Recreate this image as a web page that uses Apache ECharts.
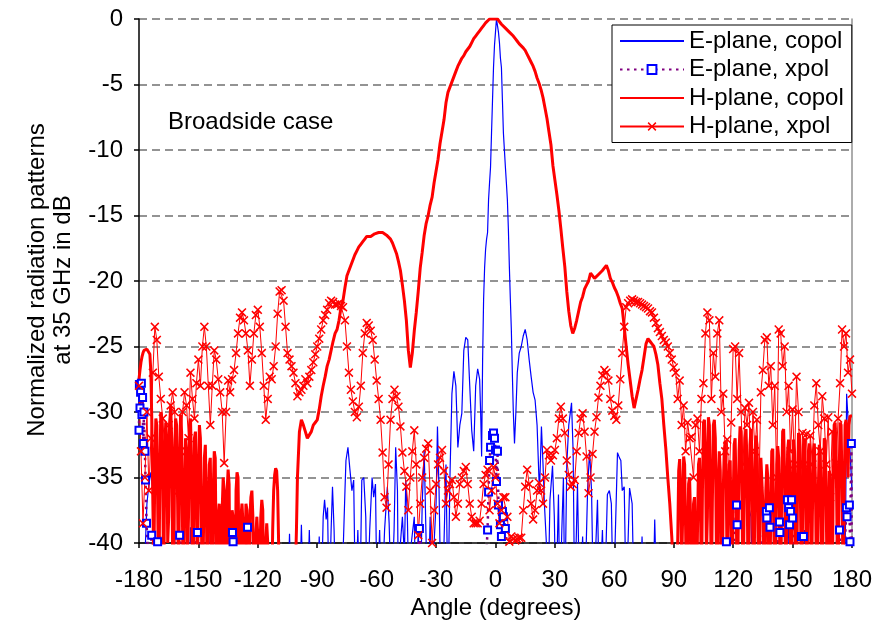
<!DOCTYPE html>
<html><head><meta charset="utf-8">
<script src="https://cdn.jsdelivr.net/npm/echarts@6/dist/echarts.min.js"></script>
<style>html,body{margin:0;padding:0;background:#fff}#c{width:875px;height:631px}</style>
</head><body><div id="c"></div>
<script>
// ---------- DATA ----------
const xTicks = [-180,-150,-120,-90,-60,-30,0,30,60,90,120,150,180];
const yTicks = [0,-5,-10,-15,-20,-25,-30,-35,-40];
const seriesNames = ['E-plane, copol','E-plane, xpol','H-plane, copol','H-plane, xpol'];

// H-plane copol, left edge: -180 .. -100 every 0.5 deg
const hCopolLeft = [
-27.5,-26.8,-26.2,-25.8,-25.5,-25.3,-25.2,-25.2,-25.2,-25.2,
-25.3,-25.6,-27,-31,-37,-42,-34,-30.5,-31,-38,
-45,-35,-30,-30.5,-36,-44,-33,-30.8,-32,-40,
-38,-31,-29.5,-32,-42,-45,-33,-30.5,-31,-37,
-44,-34,-30.2,-31.5,-39,-45,-36,-32,-33,-41,
-38,-31,-30.5,-34,-45,-40,-32,-31.5,-36,-44,
-35,-31,-32,-38,-45,-40,-33.5,-32.5,-37,-45,
-38,-34,-33.5,-40,-45,-36,-33,-33.5,-42,-45,
-38,-37,-40,-45,-37.5,-35,-36,-44,-45,-36,
-34.4,-35.5,-45,-40,-37.5,-38,-45,-46,-36,-34.6,
-35,-41,-45,-38,-37,-38.5,-45,-41,-37,-37.5,
-44,-45,-38,-36.5,-36,-38,-45,-44,-39.5,-38,
-39.5,-45,-45,-38,-36.7,-37.5,-45,-46,-40,-38.5,
-40,-45,-46,-45,-44,-39,-36,-34.8,-34.3,-34.5,
-36,-40,-45,-45,-46,-45,-45,-46,-45,-45,
-46,-45,-45,-46,-45,-45,-44,-43,-42,-39,
-35
];
// H-plane copol, centre: -99 .. 89 every 1 deg
const hCopolMid = [
-31.5,-30.6,-31,-31.5,-32,-32,-31.5,-31,-30.8,
-30.6,-29.8,-28.8,-28,-27.3,-26.5,-26,-25.3,-24.6,-24,
-23.7,-23,-22,-21.5,-20.5,-19.6,-19.2,-18.8,-18.4,-18,
-17.7,-17.4,-17.2,-17,-16.8,-16.6,-16.5,-16.6,-16.5,-16.4,
-16.3,-16.3,-16.2,-16.3,-16.4,-16.5,-16.6,-16.8,-17.1,-17.5,
-17.9,-18.5,-19.2,-20.3,-21.5,-23,-25.3,-26.6,-25.5,-23.8,
-22.4,-20.8,-19,-17.8,-16.5,-15.6,-15,-14.2,-13.6,-12.5,
-11.6,-10.7,-9.5,-8.6,-7.7,-6.4,-5.6,-5.2,-4.8,-4.4,
-4,-3.6,-3.3,-3,-2.8,-2.5,-2.4,-2.1,-1.8,-1.5,
-1.3,-1.1,-0.9,-0.7,-0.5,-0.3,-0.2,0,0,0,
0,
0,-0.2,-0.4,-0.5,-0.7,-0.8,-1,-1.1,-1.3,-1.5,
-1.7,-1.9,-2,-2.2,-2.4,-2.7,-3,-3.3,-3.6,-4,
-4.5,-4.9,-5.4,-6,-6.8,-7.6,-8.6,-9.6,-11.2,-12.3,
-13.4,-14.6,-16,-17.5,-18.9,-20.8,-22.3,-23.4,-24,-23.6,
-23,-22.3,-21.6,-21.2,-20.6,-20.3,-20,-19.4,-19.5,-19.8,
-19.7,-19.5,-19.4,-19.2,-19,-18.8,-19.2,-19.8,-20.1,-20.5,
-20.8,-21.2,-21.7,-22.1,-23.5,-25,-26.4,-27.6,-28.8,-29.7,
-29,-28.3,-27.5,-26.8,-25.8,-24.8,-24.4,-24.6,-24.8,-25,
-25.6,-26.4,-27.8,-29,-31,-32.8,-35,-37,-39.5
];
// H-plane copol, right edge: 89.5 .. 180 every 0.5 deg
const hCopolRight = [
-41,-43,-45,-46,-44,-40,-34.5,-33.6,-36,-42,
-38,-33.4,-34,-39,-45,-41,-35.5,-35,-38,-45,
-44,-37,-36.5,-41,-45,-39,-34,-33.5,-37,-44,
-36,-30.8,-30.6,-33,-41,-38,-30.4,-31,-36,-44,
-37,-31,-30.6,-32,-40,-45,-35,-33,-34.5,-42,
-44,-36,-33,-32.2,-35,-43,-38,-34,-33.7,-39,
-45,-37,-32.5,-32,-36,-44,-40,-33,-31.1,-31.5,
-37,-45,-38,-32,-31.3,-34,-43,-40,-32.5,-31.3,
-33,-41,-45,-35,-31.8,-32.5,-39,-45,-38,-33.5,
-33.4,-37,-44,-45,-36,-34,-35,-42,-45,-37,
-33,-32.8,-38,-45,-41,-34,-32.6,-33.5,-40,-45,
-36,-31.5,-31.3,-35,-44,-39,-33,-32.1,-34,-42,
-45,-35,-32.1,-33,-40,-45,-36,-31.6,-31.8,-37,
-44,-39,-32.5,-32,-35,-43,-40,-33,-32.4,-36,
-45,-38,-33,-32.4,-35,-42,-45,-36,-32.5,-33,
-39,-45,-37,-32,-32.2,-37,-44,-40,-34.5,-34.8,
-41,-45,-36,-31,-30.8,-33,-40,-45,-35,-30.8,
-31,-36,-43,-38,-31,-30.6,-32,-35,-31,-30.3,
-30.2,-30.3
];
// H-plane xpol: -180 .. 180 every 1 deg
const hXpol = [
-28,-33,-38.5,-35,-30,-36,-32,-27,-23.5,-24.5,
-27.3,-29,-30.5,-33,-35.5,-31,-29.5,-28.5,-30,-33,
-36,-33,-30,-28.5,-29.5,-32,-27,-29,-30.5,-27.8,
-26,-28,-25,-23.5,-25,-28,-31,-28,-25.3,-26,
-27.5,-28.5,-30,-33.9,-30,-27.6,-28.5,-27.5,-26.8,-25.5,
-24,-22.8,-22.4,-23,-24,-25.3,-28,-26,-24,-22.6,
-22.2,-23.5,-25.5,-28,-30.6,-29,-27.3,-27.5,-26.5,-25,
-22.5,-20.8,-20.7,-21.5,-23.5,-25.5,-26,-26.5,-27,-27.8,
-28.8,-28.5,-28.3,-28,-27.5,-27.8,-27.3,-26.8,-26.2,-25.6,
-25,-24.4,-23.7,-23,-22.6,-22.2,-21.7,-21.5,-21.6,-21.8,
-21.8,-21.7,-21.9,-22,-23,-25,-27,-28.3,-29.2,-30,
-30.4,-29.6,-28,-25.5,-24,-23.2,-23.4,-23.8,-24.5,-26,
-27.6,-29,-30.6,-33.1,-36.5,-37.3,-34,-30.6,-29,-28.3,
-28.8,-29.6,-31.1,-33.1,-34.5,-35.7,-37.5,-35,-33,-31.4,
-34,-39.4,-37,-35,-33.5,-32.8,-32.4,-36,-40,-37.5,
-35.5,-34,-33.5,-32.9,-34.5,-37,-36,-35.5,-35.2,-36.5,
-38,-37,-35.5,-35,-34.5,-34.2,-35.5,-37,-38,-38.5,
-38.5,-38.5,-38.3,-37,-35.5,-34.8,-34.4,-37.5,-36,-34.2,
-35,
-37,-38.5,-37.5,-36.5,-36.5,-38,-39.9,-39.5,-39.7,-39.8,
-39.7,-39.6,-39.6,-37.5,-35.7,-34.4,-35.5,-37,-38.2,-37.5,
-36,-35.4,-36,-37,-35,-32.9,-33.3,-33.7,-33.3,-32.9,
-32,-30.5,-29.6,-30.5,-31.6,-33.7,-34.8,-35.7,-35.5,-35.2,
-33,-31.6,-30.5,-30.1,-31.5,-33.4,-36.2,-35,-33.2,-31.5,
-30.4,-28.9,-28,-27.2,-26.8,-27,-27.6,-29,-29.9,-30.3,
-30.6,-29.5,-27.5,-25.5,-23.5,-22,-21.7,-21.5,-21.4,-21.5,
-21.6,-21.6,-21.7,-21.8,-21.9,-22,-22.1,-22.3,-22.4,-22.8,
-23.2,-23.6,-23.9,-24.2,-24.5,-24.7,-25,-25.5,-26,-26.6,
-27,-29,-27.6,-31,-29.5,-33,-30.8,-32,-31.9,-35,
-31,-30.5,-33,-29,-27.8,-24,-22.4,-23,-29,-25.5,
-27.3,-24,-23,-30,-28.6,-33,-32.1,-35.5,-30.8,-25.2,
-25,-29,-25.5,-30,-34,-29.7,-31,-29.3,-35,-30,
-33,-30.6,-36,-28.5,-26.8,-24.5,-24.3,-28,-26.5,-31,
-28,-35,-23.7,-24,-26.5,-25,-30,-28,-33,-29.8,
-34,-27.3,-30,-36.5,-31.6,-34,-31.7,-36,-31.8,-34,
-29.5,-27.8,-31,-33,-28.8,-30.5,-34,-30.4,-36.5,-31.5,
-35,-33.9,-30.5,-27.8,-23.7,-25,-24,-27,-26,-28.6
];

// E-plane: [angle, dB] (values below -40 lie under the plot floor)
const eCopol = [
[-180,-45],[-178,-44],[-177,-41],[-176,-37],[-175,-35.5],[-174,-34.6],[-173,-36],[-172.5,-40],[-172,-45],[-170,-45],[-169,-39.5],[-168,-45],[-163,-45],[-162,-39.5],[-161,-45],[-155,-45],[-154,-38.8],[-153,-45],[-145,-45],[-144,-38.5],[-143,-45],[-137,-45],[-136,-39.5],[-135,-45],[-131,-45],[-130,-38.2],[-129,-45],[-128,-39],[-127,-45],[-125,-45],[-124,-37.8],[-123,-45],[-121,-45],[-120.5,-38],[-120,-45],[-117,-45],[-116,-39],[-115,-45],[-105,-45],[-104,-39.3],[-103,-45],[-99,-45],[-98,-38.6],[-97,-45],[-95,-45],[-94,-39],[-93,-45],[-90,-45],[-89,-39.5],[-88,-45],[-87,-38],[-86.3,-36.7],[-85.5,-38.2],[-84.8,-37.3],[-84,-45],[-83,-39],[-82.3,-35.7],[-81.5,-39],[-80.6,-45],[-78,-45],[-77,-41],[-76,-36],[-75.5,-33.7],[-74.5,-32.7],[-73.5,-34.4],[-72.5,-36],[-71.6,-35.2],[-70.7,-45],[-69.5,-39],[-68.5,-45],[-67.5,-35.2],[-66.5,-35],[-65.5,-38],[-64.8,-45],[-63.5,-39],[-62.3,-35],[-61.5,-36.5],[-60.6,-35.5],[-59.8,-45],[-58.5,-39],[-57.5,-45],[-56,-39],[-54.6,-35.7],[-53.7,-38.5],[-52.5,-45],[-51.2,-39],[-50.4,-32.7],[-49.5,-36],[-49,-45],[-48,-40],[-47,-38],[-46,-41],[-45.3,-35.2],[-44.5,-38],[-43.6,-45],[-42.5,-40],[-41,-38],[-40.2,-45],[-39,-39],[-38,-45],[-37,-37],[-36,-32.9],[-35,-40],[-34,-45],[-33,-38],[-32,-45],[-31,-40],[-30,-37],[-29.3,-31.1],[-28.5,-36],[-27.5,-45],[-26,-40],[-25,-34],[-24,-45],[-23,-35],[-22,-28.6],[-21,-26.9],[-20,-28],[-19,-32.7],[-18,-31],[-17,-30.1],[-16,-25.3],[-15,-24.3],[-14,-24.5],[-13,-28],[-12,-31.4],[-11,-33],[-10,-28],[-9,-26.7],[-8,-27.5],[-7.5,-30],[-7,-33.4],[-6.5,-26],[-6,-21.4],[-5.5,-19],[-5,-17.6],[-4.5,-16.8],[-4,-16.3],[-3.5,-13.8],[-3,-12.5],[-2.5,-11.3],[-2,-8.7],[-1.5,-6.2],[-1,-3.7],[-0.5,-2],[0,-1],[0.5,0],[1,-0.5],[1.5,-1],[2,-1.8],[2.5,-3],[3,-3.7],[3.5,-6.2],[4,-8.7],[4.5,-10],[5,-11.3],[5.5,-12.5],[6,-13.8],[6.5,-16],[7,-18.9],[7.5,-21.4],[8,-23.7],[8.5,-27],[9,-30],[9.6,-32.4],[10.3,-30],[11,-27],[12,-25.5],[13,-25],[14,-24.2],[15,-23.7],[16,-24.5],[17,-26],[18,-27.3],[19,-28.5],[20,-29.1],[21,-31],[22.2,-36.2],[23.2,-31.1],[24,-34],[24.7,-37],[25.7,-40],[26.5,-45],[27.5,-36.7],[28.8,-34.1],[29.7,-38],[30.5,-45],[31.8,-36.3],[32.5,-45],[33.5,-39],[34.3,-35],[35,-45],[36,-34],[37,-31],[38.4,-29.3],[39.2,-33],[40,-45],[41.4,-35.5],[42.5,-45],[44,-39.5],[45,-45],[46.5,-36],[47.5,-32.9],[48.5,-36],[49.5,-45],[51.5,-36.7],[52.5,-45],[54,-39],[55,-45],[56.5,-36.3],[57.5,-36],[58.5,-37],[59.5,-45],[61.6,-33.1],[62.6,-33.5],[63.3,-33.7],[64,-36],[65,-35.7],[66,-45],[67.7,-35.8],[69,-37],[70,-45],[73,-45],[74,-39.5],[75,-45],[79.5,-45],[80.4,-38.2],[81.5,-45],[99,-45],[100,-40],[101,-45],[103,-45],[104,-39],[105,-45],[118,-45],[119,-37],[120,-45],[127,-45],[128,-37.3],[129,-38],[130,-45],[140,-45],[141,-39],[142,-45],[147,-45],[148.4,-36.5],[149.5,-38],[150.5,-45],[155,-45],[156,-39],[157,-45],[164,-45],[165,-38.5],[166,-45],[169,-45],[170,-35.7],[171,-45],[176,-45],[176.8,-38],[177.3,-28.6],[178,-30.5],[179,-33],[180,-36]
];
const eXpol = [
[-180,-31.4],[-179.8,-27.9],[-179.5,-29.7],[-179.2,-28.5],[-178.8,-27.8],[-178.5,-30.2],[-178.2,-28.9],[-177.8,-32.4],[-177.5,-30],[-177,-33],[-176.7,-35.2],[-176.2,-38.5],[-175,-42],[-173.6,-39.4],[-172,-45],[-170.6,-39.9],[-165,-45],[-159.5,-39.4],[-155,-45],[-150.5,-39.2],[-140,-45],[-132.8,-39.2],[-132.5,-39.9],[-128,-45],[-125.2,-38.8],[-120,-45],[-100,-45],[-80,-45],[-60,-45],[-40,-45],[-38.4,-38.9],[-36,-45],[-20,-45],[-6,-45],[-4,-39],[-3.5,-36.1],[-3,-33.7],[-2.5,-32.7],[-1.5,-31.8],[-1,-31.6],[-0.5,-32],[0,-32.9],[0.5,-35.3],[1,-33],[1.5,-37.1],[2.5,-38.6],[3,-39.5],[3.5,-37.6],[4,-38],[5,-38.9],[6,-40.5],[8,-45],[40,-45],[80,-45],[110,-45],[116.6,-39.9],[118,-45],[121.7,-37.1],[122,-38.6],[124,-45],[130,-45],[136.8,-37.6],[137,-38.1],[138.3,-37.3],[138.6,-38.8],[140,-45],[143.4,-38.4],[143.6,-39.2],[145,-45],[147.4,-36.7],[148,-37.3],[148.5,-38.6],[149,-37.6],[149.5,-36.7],[150,-38.1],[151,-42],[154.5,-39.5],[155.5,-39.5],[157,-45],[165,-45],[173.7,-39],[175,-45],[177.2,-37.3],[177.5,-38],[178.7,-37.1],[179,-39.9],[179.7,-32.4],[180,-45]
];

// ---------- BUILD ----------
const FONT = '"Liberation Sans", Arial, sans-serif';
const FS = 24;
const toPairs = (arr, start, step) => arr.map((v, i) => [start + i * step, v]);
const hCopolData = toPairs(hCopolLeft, -180, 0.5)
  .concat(toPairs(hCopolMid, -99, 1))
  .concat(toPairs(hCopolRight, 89.5, 0.5));
const hXpolData = toPairs(hXpol, -180, 1);
const XMARK = 'path://M0,1.2L1.2,0L5,3.8L8.8,0L10,1.2L6.2,5L10,8.8L8.8,10L5,6.2L1.2,10L0,8.8L3.8,5Z';

const chart = echarts.init(document.getElementById('c'), null, {renderer: 'canvas'});
chart.setOption({
  animation: false,
  backgroundColor: '#fff',
  grid: {left: 139, top: 19, width: 713, height: 524},
  xAxis: {
    type: 'value', min: xTicks[0], max: xTicks[xTicks.length - 1], interval: 30,
    axisLine: {onZero: false, lineStyle: {color: '#000', width: 1.5}},
    axisTick: {length: 5, lineStyle: {color: '#000', width: 1.5}},
    axisLabel: {fontSize: FS, fontFamily: FONT, color: '#000', margin: 25},
    splitLine: {show: false}
  },
  yAxis: [{
    type: 'value', min: yTicks[yTicks.length - 1], max: yTicks[0], interval: 5,
    axisLine: {show: true, onZero: false, lineStyle: {color: '#000', width: 1.5}},
    axisTick: {show: true, length: 5, lineStyle: {color: '#000', width: 1.5}},
    axisLabel: {fontSize: FS, fontFamily: FONT, color: '#000', margin: 16},
    splitLine: {show: true, lineStyle: {color: '#707070', width: 1.5, type: [8, 5]}}
  }, {
    type: 'value', position: 'right', min: -40, max: 0,
    axisLine: {show: true, onZero: false, lineStyle: {color: '#909090', width: 1.5}},
    axisTick: {show: false}, axisLabel: {show: false}, splitLine: {show: false}
  }],
  legend: {
    orient: 'vertical', left: 612, top: 25,
    padding: [3, 8, 3, 7], itemGap: 2.5, itemWidth: 64, itemHeight: 11,
    borderColor: '#000', borderWidth: 1, backgroundColor: '#fff',
    textStyle: {fontSize: FS, fontFamily: FONT, color: '#000', lineHeight: 26},
    data: [
      {name: seriesNames[0], itemStyle: {opacity: 0}},
      {name: seriesNames[1]},
      {name: seriesNames[2], itemStyle: {opacity: 0}},
      {name: seriesNames[3]}
    ]
  },
  graphic: [
    {type: 'text', x: 37, y: 280, rotation: Math.PI / 2,
     style: {text: 'Normalized radiation patterns', font: FS + 'px ' + FONT, fill: '#000', textAlign: 'center', textVerticalAlign: 'middle'}},
    {type: 'text', x: 63, y: 280, rotation: Math.PI / 2,
     style: {text: 'at 35 GHz in dB', font: FS + 'px ' + FONT, fill: '#000', textAlign: 'center', textVerticalAlign: 'middle'}},
    {type: 'text', x: 496, y: 608,
     style: {text: 'Angle (degrees)', font: FS + 'px ' + FONT, fill: '#000', textAlign: 'center', textVerticalAlign: 'middle'}},
    {type: 'text', x: 168, y: 122,
     style: {text: 'Broadside case', font: FS + 'px ' + FONT, fill: '#000', textAlign: 'left', textVerticalAlign: 'middle'}}
  ],
  series: [
    {name: seriesNames[0], type: 'line', data: eCopol, symbol: 'none', clip: true,
     lineStyle: {color: '#0000FF', width: 1.2}, itemStyle: {color: '#0000FF'}},
    {name: seriesNames[1], type: 'line', data: eXpol, symbol: 'emptyRect', symbolSize: 7, showAllSymbol: true, clip: true,
     lineStyle: {color: '#800080', width: 2.5, type: [2.5, 4.5]}, itemStyle: {color: '#0000FF', borderWidth: 1.5}},
    {name: seriesNames[2], type: 'line', data: hCopolData, symbol: 'none', clip: true,
     lineStyle: {color: '#FF0000', width: 3}, itemStyle: {color: '#FF0000'}},
    {name: seriesNames[3], type: 'line', data: hXpolData, symbol: XMARK, symbolSize: 9, showAllSymbol: true, clip: true,
     lineStyle: {color: '#FF0000', width: 1}, itemStyle: {color: '#FF0000'}}
  ]
});
</script>
</body></html>
